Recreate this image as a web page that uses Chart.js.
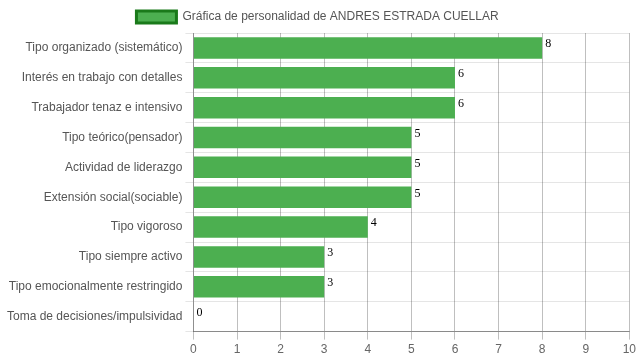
<!DOCTYPE html>
<html><head><meta charset="utf-8">
<script src="https://cdn.jsdelivr.net/npm/chart.js@4/dist/chart.umd.min.js"></script>
<style>html,body{margin:0;padding:0;background:#fff}#wrap{width:639px;height:360px}</style>
</head><body><div id="wrap"><canvas id="c"></canvas></div>
<script>
const categories = ["Tipo organizado (sistemático)","Interés en trabajo con detalles","Trabajador tenaz e intensivo","Tipo teórico(pensador)","Actividad de liderazgo","Extensión social(sociable)","Tipo vigoroso","Tipo siempre activo","Tipo emocionalmente restringido","Toma de decisiones/impulsividad"];
const values = [8,6,6,5,5,5,4,3,3,0];
const seriesName = "Gráfica de personalidad de ANDRES ESTRADA CUELLAR";
const xTicks = [0,1,2,3,4,5,6,7,8,9,10];

const valueLabels = {
  id: 'valueLabels',
  afterDatasetsDraw(chart) {
    const ctx = chart.ctx;
    const meta = chart.getDatasetMeta(0);
    ctx.save();
    ctx.font = '12px "Liberation Serif", "Times New Roman", serif';
    ctx.fillStyle = '#000';
    ctx.textAlign = 'left';
    ctx.textBaseline = 'top';
    meta.data.forEach((bar, i) => {
      const p = bar.getProps(['x','y','height'], true);
      ctx.fillText(String(values[i]), p.x + 3, p.y - p.height/2 + 1);
    });
    ctx.restore();
  }
};

new Chart(document.getElementById('c'), {
  type: 'bar',
  data: {
    labels: categories,
    datasets: [{
      label: seriesName,
      data: values,
      backgroundColor: 'rgba(76,175,80,1)',
      borderWidth: 0,
      barPercentage: 0.72,
      categoryPercentage: 1
    }]
  },
  options: {
    indexAxis: 'y',
    responsive: true,
    maintainAspectRatio: false,
    animation: false,
    layout: { padding: { right: 8, left: 4, top: 1 } },
    plugins: {
      legend: {
        labels: {
          font: { family: 'Arial', size: 12 },
          color: '#555',
          generateLabels(chart) {
            return [{ text: seriesName, fillStyle: 'rgba(76,175,80,1)', strokeStyle: '#1a7a1a', fontColor: '#555', lineWidth: 3, datasetIndex: 0, hidden: false }];
          }
        }
      },
      tooltip: { enabled: false }
    },
    scales: {
      x: {
        min: 0, max: 10,
        ticks: { stepSize: 1, color: '#666', font: { family: 'Arial', size: 12 },
          callback: (v) => xTicks.includes(v) ? String(v) : '' },
        grid: { color: 'rgba(0,0,0,0.25)', tickLength: 8 },
        border: { color: 'rgba(0,0,0,0.4)' }
      },
      y: {
        ticks: { color: '#555', font: { family: 'Arial', size: 12 } },
        grid: { color: 'rgba(0,0,0,0.1)', offset: true, tickLength: 8 },
        border: { color: 'rgba(0,0,0,0.25)' }
      }
    }
  },
  plugins: [valueLabels]
});
</script></body></html>
